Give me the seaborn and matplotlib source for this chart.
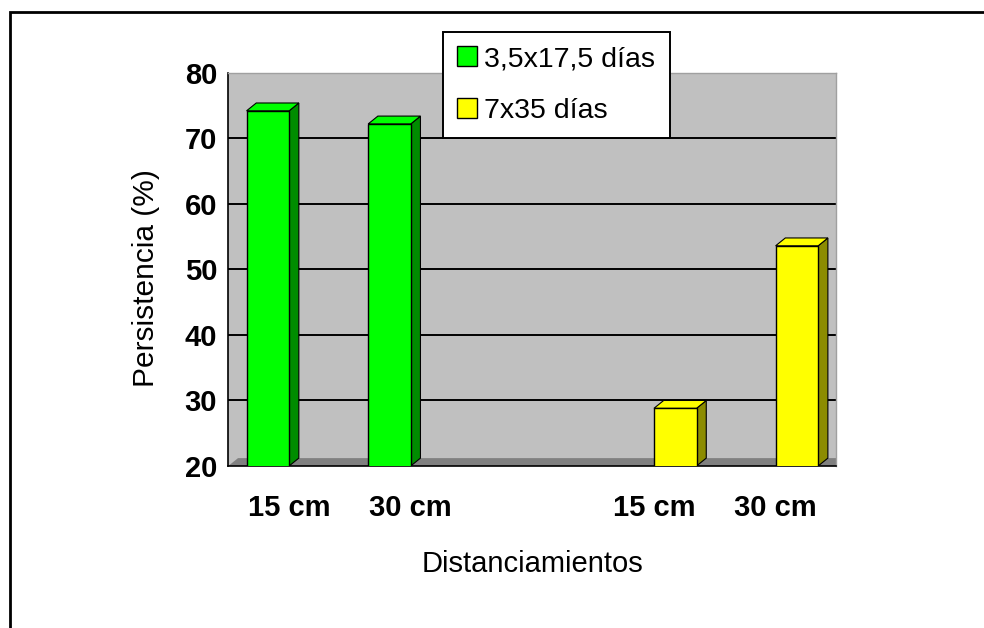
import matplotlib
matplotlib.use("Agg")
import matplotlib.pyplot as plt
import seaborn as sns
import pandas as pd
from matplotlib.patches import Polygon, Rectangle, Patch
from matplotlib.colors import to_rgb

# datos
categorias = ["g15", "g30", "vacio", "y15", "y30"]
etiquetas = ["15 cm", "30 cm", "", "15 cm", "30 cm"]
series = ["3,5x17,5 días", "7x35 días"]
cat_serie1 = ["g15", "g30"]
valores_serie1 = [74.2, 72.2]
cat_serie2 = ["y15", "y30"]
valores_serie2 = [28.8, 53.6]
colores = ["#00FF00", "#FFFF00"]

df = pd.DataFrame({
    "cat": cat_serie1 + cat_serie2,
    "valor": valores_serie1 + valores_serie2,
    "serie": [series[0]] * len(cat_serie1) + [series[1]] * len(cat_serie2),
})

sns.set_style("white")
plt.rcParams["font.family"] = ["Liberation Sans", "DejaVu Sans"]
for k in ["text.color", "axes.labelcolor", "xtick.color", "ytick.color"]:
    plt.rcParams[k] = "black"

fig = plt.figure(figsize=(9.84, 6.28), dpi=100)
ax = fig.add_axes([0.232, 0.258, 0.618, 0.626])
ax.set_facecolor("#C0C0C0")

sns.barplot(data=df, x="cat", y="valor", hue="serie", order=categorias,
            hue_order=series, palette=colores, width=0.7, dodge=True,
            saturation=1, edgecolor="black", linewidth=1, ax=ax,
            legend=False, zorder=3)

ymin, ymax = 20, 80
ax.set_ylim(ymin, ymax)
ax.set_xlim(-0.5, len(categorias) - 0.5)

# lineas de division
for v in range(30, 80, 10):
    ax.axhline(v, color="black", lw=1.4, zorder=1)

# suelo 3D
dx, dy = 0.08, 1.2
x_lo, x_hi = ax.get_xlim()
ax.add_patch(Polygon([(x_lo, ymin), (x_hi, ymin), (x_hi + dx, ymin + dy),
                      (x_lo + dx, ymin + dy)], closed=True,
                     facecolor="#808080", edgecolor="none", zorder=2))

# caras laterales y superiores de las barras
for p in list(ax.patches):
    if not isinstance(p, Rectangle) or p.get_height() <= 0:
        continue
    x0 = p.get_x()
    x1 = x0 + p.get_width()
    y1 = p.get_y() + p.get_height()
    y0 = max(p.get_y(), ymin)
    r, g, b = to_rgb(p.get_facecolor())
    lado = (r * 0.55, g * 0.55, b * 0.1)
    ax.add_patch(Polygon([(x1, y0), (x1 + dx, y0 + dy), (x1 + dx, y1 + dy), (x1, y1)],
                         closed=True, facecolor=lado, edgecolor="black", lw=0.8, zorder=2.9))
    ax.add_patch(Polygon([(x0, y1), (x0 + dx, y1 + dy), (x1 + dx, y1 + dy), (x1, y1)],
                         closed=True, facecolor=(r, g, b), edgecolor="black", lw=0.8, zorder=2.9))

# ejes
for s in ["top", "right"]:
    ax.spines[s].set_color("#A0A0A0")
    ax.spines[s].set_linewidth(1)
for s in ["left", "bottom"]:
    ax.spines[s].set_color("black")
    ax.spines[s].set_linewidth(1.2)

ax.set_yticks(range(20, 81, 10))
ax.tick_params(axis="y", direction="out", length=6, width=1.2, color="black",
               labelsize=21, pad=2)
for t in ax.get_yticklabels():
    t.set_fontweight("bold")

ax.set_xticks(range(len(categorias)))
ax.set_xticklabels(etiquetas, fontsize=21, fontweight="bold")
ax.tick_params(axis="x", length=0, pad=20)
ax.set_xticks([i - 0.5 for i in range(len(categorias) + 1)], minor=True)
ax.tick_params(axis="x", which="minor", direction="out", length=6, width=1.2, color="black")

ax.set_xlabel("Distanciamientos", fontsize=21, labelpad=20)
ax.set_ylabel("Persistencia (%)", fontsize=21.5, labelpad=18)
ax.yaxis.label.set_y(0.478)

# leyenda
handles = [Patch(facecolor=c, edgecolor="black", lw=1) for c in colores]
ax.legend(handles, series, loc="upper left", bbox_to_anchor=(443 / 984, 1 - 32 / 628),
          bbox_transform=fig.transFigure, frameon=True, fancybox=False,
          edgecolor="black", framealpha=1, handlelength=0.7, handleheight=0.7,
          handletextpad=0.25, fontsize=20.5, labelspacing=0.9, borderpad=0.5,
          borderaxespad=0)
ax.get_legend().get_frame().set_linewidth(1.4)

# marco exterior
fig.add_artist(Rectangle((10 / 984, -0.1), 1.2, 1.1 - 12 / 628,
                         transform=fig.transFigure, fill=False,
                         edgecolor="black", lw=2))

fig.savefig("out.png", dpi=100)
